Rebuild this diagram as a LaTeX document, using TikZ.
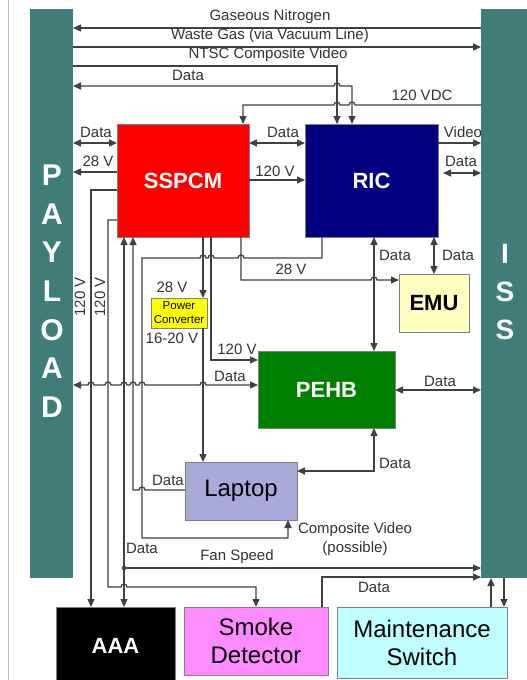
\documentclass[tikz,border=0pt]{standalone}
\usepackage{fontspec}
\setmainfont{Liberation Sans}
\usepackage{tikz}
\usetikzlibrary{arrows.meta}
\definecolor{bar_teal}{RGB}{64,124,122}
\definecolor{box_sspcm}{RGB}{255,0,0}
\definecolor{box_ric}{RGB}{0,0,128}
\definecolor{box_pehb}{RGB}{0,128,0}
\definecolor{box_emu}{RGB}{255,255,192}
\definecolor{box_laptop}{RGB}{170,170,218}
\definecolor{box_power}{RGB}{255,255,0}
\definecolor{box_smoke}{RGB}{255,140,255}
\definecolor{box_maint}{RGB}{192,255,255}
\colorlet{box_border}{black!50}
\colorlet{link_gray}{black!75}
\colorlet{tag_gray}{black!80}
\tikzset{
    bar/.style={fill=bar_teal,inner sep=0pt,outer sep=0pt},
    bar_letter/.style={text=white,font=\fontsize{30}{30}\selectfont\bfseries,inner sep=0pt},
    unit/.style={draw=box_border,line width=0.8pt,inner sep=0pt,outer sep=0pt,align=center},
    unit_bold/.style={font=\fontsize{22}{26}\selectfont\bfseries},
    unit_plain/.style={font=\fontsize{24}{28}\selectfont},
    link/.style={draw=link_gray,line width=1.3pt},
    link_single/.style={link,-{Triangle[length=8pt,width=7pt]}},
    link_double/.style={link,{Triangle[length=8pt,width=7pt]}-{Triangle[length=8pt,width=7pt]}},
    tag/.style={font=\fontsize{15}{19}\selectfont,text=tag_gray,inner sep=0pt,align=center},
}

\begin{document}
\begin{tikzpicture}[x=1pt,y=-1pt]
  \clip (0,0) rectangle (527,680);
  \fill[white] (0,0) rectangle (527,680);
  \draw[black!25] (8,0) -- (8,680);
  % Side bars
  \node[bar,minimum width=43pt,minimum height=569pt] (payload) at (51.5,293.5) {};
  \node[bar,minimum width=50pt,minimum height=569pt] (iss) at (506,293.5) {};
  \foreach \ch [count=\i] in {P,A,Y,L,O,A,D}
    \node[bar_letter] at (52,175+38.7*\i-38.7) {\ch};
  \foreach \ch [count=\i] in {I,S,S}
    \node[bar_letter,font=\fontsize{28}{28}\selectfont\bfseries] at (505,254+38*\i-38) {\ch};
  % Units
  \node[unit,unit_bold,fill=box_sspcm,text=white,minimum width=132pt,minimum height=113pt] (sspcm) at (183,180.5) {SSPCM};
  \node[unit,unit_bold,fill=box_ric,text=white,minimum width=133pt,minimum height=113pt] (ric) at (371.5,180.5) {RIC};
  \node[unit,unit_bold,fill=box_emu,minimum width=70pt,minimum height=58pt] (emu) at (434,303) {EMU};
  \node[unit,unit_bold,fill=box_pehb,text=white,minimum width=137pt,minimum height=77pt] (pehb) at (326.5,389.5) {PEHB};
  \node[unit,unit_plain,fill=box_laptop,minimum width=112pt,minimum height=58pt] (laptop) at (241,491) {Laptop};
  \node[unit,fill=box_power,font=\fontsize{11.5}{14}\selectfont,minimum width=56pt,minimum height=30pt] (power) at (179,313) {Power\\Converter};
  \node[unit,unit_bold,fill=black,text=white,minimum width=119pt,minimum height=78pt] (aaa) at (115.5,646) {AAA};
  \node[unit,unit_plain,fill=box_smoke,minimum width=144pt,minimum height=68pt] (smoke) at (256,641) {Smoke\\Detector};
  \node[unit,unit_plain,fill=box_maint,minimum width=170pt,minimum height=71pt] (maint) at (422,642.5) {Maintenance\\Switch};
  % Top lines between the bars
  \draw[link_single] (iss.west |- 0,28) -- (payload.east |- 0,28);
  \node[tag] at (270,17) {Gaseous Nitrogen};
  \draw[link_single] (payload.east |- 0,47) -- (iss.west |- 0,47);
  \node[tag] at (270,36) {Waste Gas (via Vacuum Line)};
  \draw[link_single] (payload.east |- 0,66) -- (337,66) -- (ric.north -| 337,0);
  \node[tag] at (268,55) {NTSC Composite Video};
  \draw[link_double] (payload.east |- 0,86) -- (334,86) arc(180:360:3) -- (352,86) -- (ric.north -| 352,0);
  \node[tag] at (188,75) {Data};
  \draw[link_single] (iss.west |- 0,105) -- (355,105) arc(0:-180:3) -- (340,105) arc(0:-180:3) -- (243,105) -- (sspcm.north -| 243,0);
  \node[tag] at (422,95) {120 VDC};
  % SSPCM and RIC sides
  \draw[link_double] (payload.east |- 0,143) -- (sspcm.west |- 0,143);
  \node[tag] at (96,132) {Data};
  \draw[link_single] (sspcm.west |- 0,172) -- (payload.east |- 0,172);
  \node[tag] at (98,161) {28 V};
  \draw[link_double] (sspcm.east |- 0,143) -- (ric.west |- 0,143);
  \node[tag] at (283,132) {Data};
  \draw[link_single] (sspcm.east |- 0,180) -- (ric.west |- 0,180);
  \node[tag] at (275,171) {120 V};
  \draw[link_single] (ric.east |- 0,143) -- (iss.west |- 0,143);
  \node[tag] at (463,132) {Video};
  \draw[link_double,shorten <=5pt] (ric.east |- 0,173) -- (iss.west |- 0,173);
  \node[tag] at (461,161) {Data};
  % 120 V feeds down the left side
  \draw[link_single] (sspcm.west |- 0,190) -- (91,190) -- (aaa.north -| 91,0);
  \node[tag,rotate=90] at (80,297) {120 V};
  \draw[link_single] (sspcm.west |- 0,220) -- (108,220) -- (108,587) -- (121,587) arc(180:360:3) -- (256,587) -- (smoke.north -| 256,0);
  \node[tag,rotate=90] at (100,297) {120 V};
  % Data to AAA and fan speed
  \draw[link_double] (aaa.north -| 124,0) -- (sspcm.south -| 124,0);
  \fill[link_gray] (124,568) circle (2.2);
  \draw[link_single] (124,568) -- (iss.west |- 0,568);
  \node[tag] at (142,548) {Data};
  \node[tag] at (237,557) {Fan Speed};
  % Laptop links
  \draw[link_single] (laptop.west |- 0,490) -- (145,490) arc(0:-180:3) -- (133,490) -- (sspcm.south -| 133,0);
  \node[tag] at (168,480) {Data};
  \draw[link_single] (ric.south -| 322,0) -- (322,258) -- (244,258) arc(0:-180:3) -- (214,258) arc(0:-180:3) -- (206,258) arc(0:-180:3) -- (142,258) -- (142,538) -- (288,538) -- (laptop.south -| 288,0);
  \node[tag] at (355,539) {Composite Video\\(possible)};
  % Power from SSPCM
  \draw[link_single] (sspcm.south -| 241,0) -- (241,280) -- (371,280) arc(180:360:3) -- (emu.west |- 0,280);
  \node[tag] at (291,269) {28 V};
  \draw[link_single] (sspcm.south -| 203,0) -- (power.north -| 203,0);
  \node[tag] at (172,287) {28 V};
  \draw[link_single] (power.south -| 203,0) -- (laptop.north -| 203,0);
  \node[tag] at (172,338) {16-20 V};
  \draw[link_single] (sspcm.south -| 211,0) -- (211,360) -- (pehb.west |- 0,360);
  \node[tag] at (237,349) {120 V};
  % PEHB data
  \draw[link_double] (payload.east |- 0,385) -- (88,385) arc(180:360:3) -- (105,385) arc(180:360:3) -- (121,385) arc(180:360:3) -- (130,385) arc(180:360:3) -- (139,385) arc(180:360:3) -- (200,385) arc(180:360:3) -- (pehb.west |- 0,385);
  \node[tag] at (230,376) {Data};
  \draw[link_double] (ric.south -| 374,0) -- (pehb.north -| 374,0);
  \node[tag] at (395,255) {Data};
  \draw[link_double] (ric.south -| 434,0) -- (emu.north -| 434,0);
  \node[tag] at (458,255) {Data};
  \draw[link_double] (pehb.east |- 0,390) -- (iss.west |- 0,390);
  \node[tag] at (440,381) {Data};
  \draw[link_double] (pehb.south -| 374,0) -- (374,471) -- (laptop.east |- 0,471);
  \node[tag] at (395,463) {Data};
  % Bottom units to ISS
  \draw[link_single] (smoke.north -| 322,0) -- (322,577) -- (iss.west |- 0,577);
  \node[tag] at (374,587) {Data};
  \draw[link_single] (maint.north -| 491,0) -- (iss.south -| 491,0);
  \draw[link_single] (iss.south -| 504,0) -- (maint.north -| 504,0);
\end{tikzpicture}
\end{document}
